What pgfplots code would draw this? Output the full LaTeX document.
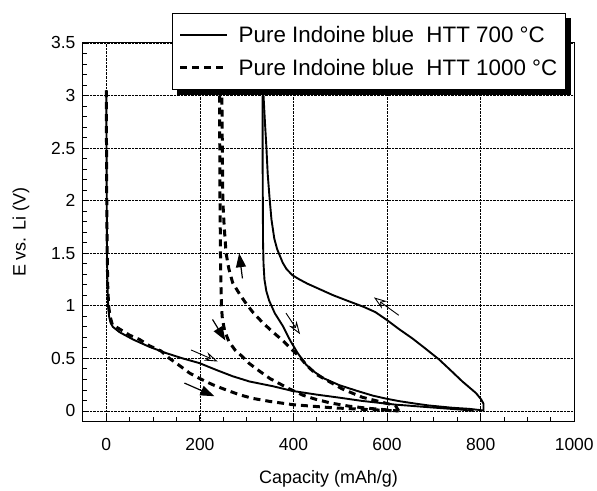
\documentclass[border=0pt]{standalone}
\usepackage{fontspec}
\setmainfont{Liberation Sans}
\usepackage{pgfplots}
\pgfplotsset{compat=1.18}
\usetikzlibrary{arrows.meta}

\begin{document}
\begin{tikzpicture}
\begin{axis}[
    name=ax,
    scale only axis,
    width=492pt, height=379pt,
    xmin=-50, xmax=1000, ymin=-0.1, ymax=3.5,
    xtick={0,200,400,600,800,1000},
    ytick={0,0.5,1,1.5,2,2.5,3,3.5},
    minor x tick num=3, minor y tick num=4,
    xtick pos=bottom, ytick pos=left,
    tick align=inside,
    major tick length=6pt, minor tick length=4pt,
    every tick/.style={black, line width=0.8pt},
    grid=major, grid style={black, densely dotted, line width=0.6pt},
    axis line style={line width=1pt},
    /pgf/number format/assume math mode=true,
    /pgf/number format/1000 sep={},
    tick label style={font=\fontsize{17.5}{20}\selectfont},
    xticklabel style={yshift=-13pt},
    yticklabel style={xshift=-4pt},
    xlabel={Capacity (mAh/g)}, ylabel={E vs. Li (V)},
    label style={font=\fontsize{18}{21}\selectfont},
    xlabel shift=13pt, ylabel shift=15pt,
    legend style={name=leg, at={(0.182,1.08)}, anchor=north west,
        draw=black, line width=1pt, fill=white,
        font=\fontsize{22.4}{26}\selectfont,
        inner xsep=6pt, inner ysep=11pt, row sep=11pt, legend cell align=left},
    legend image code/.code={\draw[#1] (0pt,0pt) -- (47pt,0pt); \path (55pt,0pt);},
    s700/.style={black, line width=1.9pt},
    s1000/.style={black, line width=3pt, dash pattern=on 7pt off 5pt},
]

% 700 C: first discharge
\addplot[s700] coordinates {
(0,3.05) (0.5,2.5) (1,2.0) (1.5,1.5) (2.5,1.2) (4,1.0) (6,0.9) (9,0.84) (14,0.80) (28,0.75) (57,0.68) (92,0.61) (128,0.55) (163,0.50) (199,0.455) (235,0.39) (270,0.33) (306,0.28) (356,0.235) (398,0.19) (450,0.155) (500,0.125) (547,0.095) (618,0.06) (690,0.035) (760,0.012) (785,0.0)
};
\addlegendentry{Pure Indoine blue\ \ HTT 700 °C}

% 1000 C: first discharge
\addplot[s1000] coordinates {
(0,3.05) (0.5,2.5) (1,2.0) (2,1.5) (3,1.2) (5,1.0) (8,0.9) (13,0.82) (28,0.78) (50,0.72) (71,0.68) (92,0.62) (117,0.57) (135,0.50) (160,0.42) (178,0.36) (199,0.31) (227,0.25) (256,0.20) (284,0.155) (312,0.12) (350,0.09) (398,0.06) (440,0.045) (483,0.03) (550,0.015) (625,0.0)
};
\addlegendentry{Pure Indoine blue\ \ HTT 1000 °C}

% 700 C: charge
\addplot[s700, forget plot] coordinates {
(806,0) (806,0.07) (801,0.11) (790,0.17) (761,0.28) (735,0.39) (711,0.49) (680,0.60) (654,0.69) (625,0.78) (598,0.87) (575,0.94) (550,0.99) (520,1.04) (485,1.10) (455,1.16) (430,1.21) (413,1.25) (398,1.29) (385,1.35) (377,1.41) (365,1.54) (359,1.64) (353,1.82) (349,2.02) (345,2.25) (342,2.52) (339,2.75) (336,3.0)
};

% 700 C: second discharge
\addplot[s700, forget plot] coordinates {
(334,3.0) (334,2.5) (334.5,2.0) (335,1.6) (336,1.4) (338,1.25) (342,1.14) (348,1.05) (360,0.93) (377,0.81) (393,0.67) (409,0.55) (427,0.44) (445,0.37) (465,0.31) (498,0.245) (540,0.185) (570,0.145) (600,0.115) (626,0.093) (660,0.07) (689,0.052) (740,0.03) (775,0.02) (805,0.005)
};

% 1000 C: charge
\addplot[s1000, forget plot] coordinates {
(625,0.0) (618,0.05) (583,0.09) (547,0.13) (520,0.18) (504,0.21) (476,0.28) (448,0.35) (427,0.44) (412,0.52) (395,0.59) (377,0.67) (356,0.75) (334,0.84) (313,0.94) (299,1.02) (285,1.11) (270,1.22) (262,1.35) (256,1.5) (252,1.75) (249,2.0) (248,2.5) (247,3.0)
};

% 1000 C: second discharge
\addplot[s1000, forget plot] coordinates {
(242,3.0) (242.5,2.5) (243,2.0) (244,1.5) (245,1.2) (246,1.0) (248,0.88) (253,0.76) (262,0.66) (275,0.58) (290,0.52) (306,0.45) (327,0.38) (349,0.31) (370,0.26) (391,0.21) (420,0.15) (448,0.11) (480,0.075) (519,0.045) (560,0.025) (600,0.01) (622,0.0)
};

% direction arrows
\draw[line width=0.9pt, -{Stealth[open, length=13pt, width=9pt]}] (axis cs:181,0.58) -- (axis cs:238,0.47);
\draw[line width=0.9pt, -{Stealth[open, length=13pt, width=9pt]}] (axis cs:384,0.93) -- (axis cs:414,0.73);
\draw[line width=0.9pt, -{Stealth[open, length=13pt, width=9pt]}] (axis cs:625,0.91) -- (axis cs:572,1.08);
\draw[line width=1.2pt, -{Triangle[length=14pt, width=10pt]}] (axis cs:167,0.265) -- (axis cs:231,0.14);
\draw[line width=1.2pt, -{Triangle[length=14pt, width=10pt]}] (axis cs:227,0.87) -- (axis cs:254.5,0.67);
\draw[line width=1.2pt, -{Triangle[length=14pt, width=10pt]}] (axis cs:291,1.26) -- (axis cs:284,1.50);
\end{axis}
% legend shadow
\fill[black] ([yshift=-5pt]leg.north east) rectangle ([xshift=5pt,yshift=-5pt]leg.south east);
\fill[black] ([xshift=5pt]leg.south west) rectangle ([xshift=5pt,yshift=-5pt]leg.south east);
\path ([xshift=-83pt, yshift=-64pt]ax.south west) rectangle ++(597pt,486pt);
\end{tikzpicture}
\end{document}
